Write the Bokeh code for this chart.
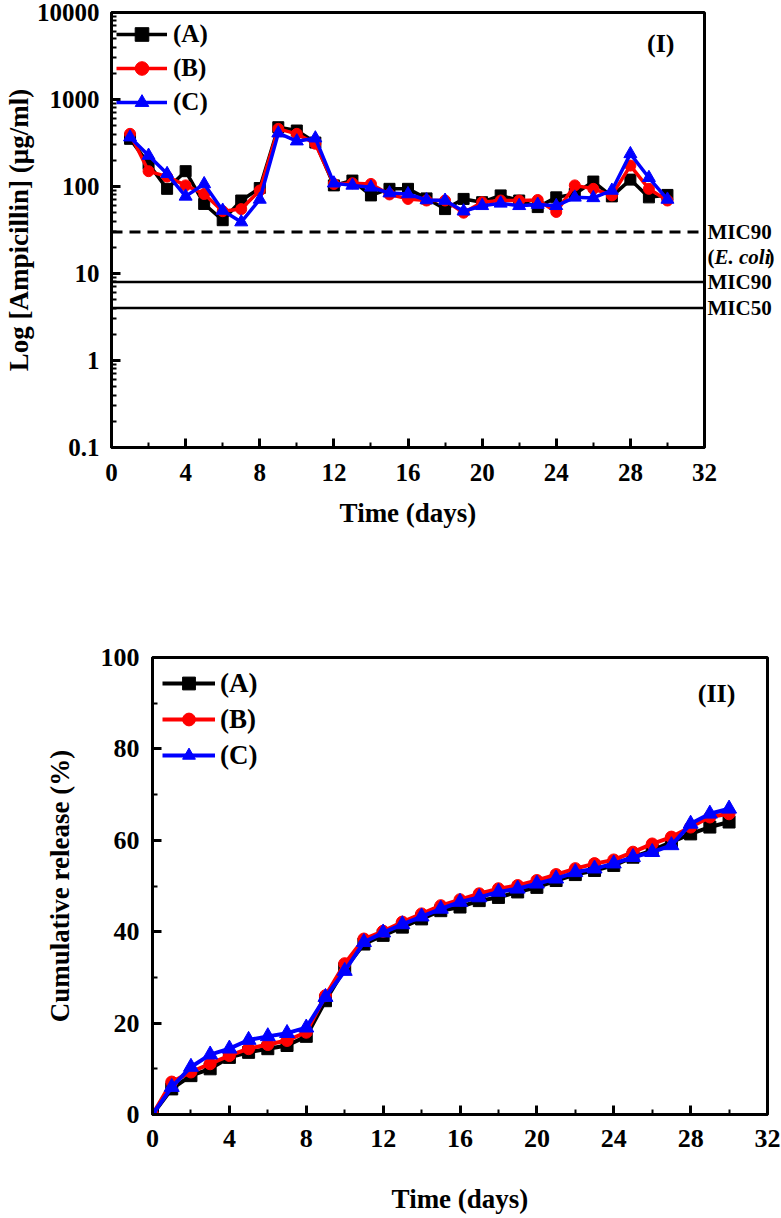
from bokeh.plotting import figure
from bokeh.models import (Range1d, FixedTicker, Span, Label, Legend, LegendItem,
                          CustomJSTickFormatter, LogAxis)
from bokeh.embed import file_html
from bokeh.resources import INLINE

# ---------------- data: panel (I) ----------------
days_top = list(range(1, 31))
conc_A = [353, 182, 94, 150, 63, 41, 69, 96, 480, 440, 320, 103, 117, 79, 94,
          94, 73, 55, 72, 66, 79, 69, 58, 75, 82, 114, 77, 120, 75, 80]
conc_B = [403, 150, 130, 103, 82, 52, 55, 90, 460, 403, 310, 107, 109, 107, 81,
          72, 69, 69, 50, 66, 69, 69, 70, 51, 103, 94, 79, 174, 94, 69]
conc_C = [369, 227, 140, 77, 107, 53, 39, 71, 410, 332, 359, 109, 103, 98, 84,
          82, 70, 69, 52, 60, 64, 60, 62, 60, 75, 74, 90, 237, 126, 71]
mic_values = [30, 8, 4]
mic_labels = ["MIC90", "MIC90", "MIC50"]

# ---------------- data: panel (II) ----------------
days_bottom = list(range(0, 31))
rel_A = [0, 5.6, 8.5, 10.0, 12.5, 13.6, 14.4, 15.1, 17.1, 24.9, 31.9, 37.3, 39.2,
         41.0, 42.8, 44.6, 45.4, 46.8, 47.5, 48.7, 49.7, 51.2, 52.5, 53.4, 54.5,
         56.3, 57.8, 59.6, 61.4, 62.9, 64.0]
rel_B = [0, 7.1, 9.3, 11.1, 12.9, 14.4, 15.3, 16.2, 18.0, 26.0, 33.0, 38.4, 40.1,
         42.1, 43.9, 45.7, 47.0, 48.3, 49.4, 50.1, 51.2, 52.5, 53.8, 54.9, 55.7,
         57.4, 59.2, 60.7, 62.9, 65.1, 65.8]
rel_C = [0, 6.0, 10.4, 13.1, 14.4, 16.3, 17.1, 17.8, 19.0, 25.7, 31.4, 37.7, 39.8,
         41.6, 43.3, 45.0, 46.5, 47.5, 48.7, 49.4, 50.5, 51.6, 53.0, 53.8, 54.9,
         56.3, 57.4, 58.9, 63.6, 65.8, 66.9]

x_major = [0, 4, 8, 12, 16, 20, 24, 28, 32]
x_minor = [2, 6, 10, 14, 18, 22, 26, 30]
series_labels = ["(A)", "(B)", "(C)"]
colors = ["#000000", "#ff0000", "#0000ff"]
markers = ["square", "circle", "triangle"]

FONT = "Liberation Serif"


def style_axes(p, tick_size, label_size):
    for ax in (p.xaxis, p.yaxis):
        ax.axis_line_width = 3
        ax.axis_line_color = "black"
        ax.major_tick_line_width = 3
        ax.minor_tick_line_width = 2
        ax.major_tick_in = 9
        ax.major_tick_out = 0
        ax.minor_tick_in = 5
        ax.minor_tick_out = 0
        ax.major_label_text_font = FONT
        ax.major_label_text_font_style = "bold"
        ax.major_label_text_font_size = tick_size
        ax.major_label_text_color = "black"
        ax.axis_label_text_font = FONT
        ax.axis_label_text_font_style = "bold"
        ax.axis_label_text_font_size = label_size
        ax.axis_label_text_color = "black"
    p.xgrid.visible = False
    p.ygrid.visible = False
    p.outline_line_color = "black"
    p.outline_line_width = 3
    p.outline_line_alpha = 1.0


# ================= Panel (I) =================
TOP_H = 612
p1 = figure(width=781, height=TOP_H, output_backend="svg", toolbar_location=None,
            y_axis_type="log", x_range=Range1d(0, 32), y_range=Range1d(0.1, 10000),
            min_border_left=107, min_border_right=77, min_border_top=12,
            min_border_bottom=TOP_H - 447)
style_axes(p1, "25px", "27px")
p1.xaxis.ticker = FixedTicker(ticks=x_major, minor_ticks=x_minor)
log_major = [0.1, 1, 10, 100, 1000, 10000]
log_minor = [k * 10.0 ** d for d in range(-1, 4) for k in range(2, 10)]
p1.yaxis.ticker = FixedTicker(ticks=log_major, minor_ticks=log_minor)
p1.yaxis.formatter = CustomJSTickFormatter(code="return String(Math.round(tick*10)/10);")
p1.xaxis.axis_label = "Time (days)"
p1.yaxis.axis_label = "Log [Ampicillin] (\u03bcg/ml)"
p1.xaxis.major_label_standoff = 16
p1.xaxis.axis_label_standoff = 14
p1.yaxis.major_label_standoff = 12
p1.yaxis.axis_label_standoff = 0

# MIC reference lines
p1.add_layout(Span(location=mic_values[0], dimension="width", line_color="black",
                   line_width=3, line_dash="11 7"))
for v in mic_values[1:]:
    p1.add_layout(Span(location=v, dimension="width", line_color="black", line_width=2.5))

# MIC labels on a right-hand axis (outside the frame)
rax = LogAxis(ticker=FixedTicker(ticks=mic_values, minor_ticks=[]),
              major_label_overrides={v: t for v, t in zip(mic_values, mic_labels)})
rax.axis_line_color = None
rax.major_tick_line_color = None
rax.minor_tick_line_color = None
rax.major_tick_in = 0
rax.major_tick_out = 0
rax.minor_tick_in = 0
rax.minor_tick_out = 0
rax.major_label_standoff = 3
rax.major_label_text_font = FONT
rax.major_label_text_font_style = "bold"
rax.major_label_text_font_size = "21px"
rax.major_label_text_color = "black"
p1.add_layout(rax, "right")

# "(E. coli)" under the dashed MIC90 label, with the species name in italics.
# Placed in a side panel so it is not clipped to the frame; positioned relative
# to the dashed line's data value.
for txt, xo, style in [("(", 3, "bold"), ("E. coli", 10, "bold italic"), (")", 63, "bold")]:
    p1.add_layout(Label(x=32, y=mic_values[0], x_offset=xo, y_offset=-25, text=txt,
                        text_font=FONT, text_font_style=style, text_font_size="21px",
                        text_align="left", text_baseline="middle", text_color="black"),
                  "below")

items1 = []
for ys, lab, c, m in zip([conc_A, conc_B, conc_C], series_labels, colors, markers):
    r_line = p1.line(days_top, ys, line_color=c, line_width=3.5)
    r_pt = p1.scatter(days_top, ys, marker=m, size=11 if m != "triangle" else 13,
                      fill_color=c, line_color=c)
    items1.append(LegendItem(label=lab, renderers=[r_line, r_pt]))

leg1 = Legend(items=items1, location="top_left", margin=5, padding=3, spacing=0,
              glyph_width=51, glyph_height=34, label_height=34, label_standoff=6,
              label_text_font=FONT, label_text_font_style="bold",
              label_text_font_size="25px", label_text_color="black",
              border_line_color=None, background_fill_alpha=0)
p1.add_layout(leg1)

p1.add_layout(Label(x=29.64, y=4370, text="(I)", text_font=FONT, text_font_style="bold",
                    text_font_size="26px", text_align="center", text_baseline="middle",
                    text_color="black"))

# ================= Panel (II) =================
BOT_H = 1218 - TOP_H
p2 = figure(width=781, height=BOT_H, output_backend="svg", toolbar_location=None,
            x_range=Range1d(0, 32), y_range=Range1d(0, 100),
            min_border_left=152, min_border_right=14, min_border_top=657 - TOP_H,
            min_border_bottom=104)
style_axes(p2, "26px", "27px")
p2.xaxis.ticker = FixedTicker(ticks=x_major, minor_ticks=x_minor)
p2.yaxis.ticker = FixedTicker(ticks=[0, 20, 40, 60, 80, 100], minor_ticks=[10, 30, 50, 70, 90])
p2.xaxis.axis_label = "Time (days)"
p2.yaxis.axis_label = "Cumulative release (%)"
p2.xaxis.major_label_standoff = 15
p2.xaxis.axis_label_standoff = 34
p2.yaxis.major_label_standoff = 13
p2.yaxis.axis_label_standoff = 23

items2 = []
for ys, lab, c, m in zip([rel_A, rel_B, rel_C], series_labels, colors, markers):
    r_line = p2.line(days_bottom, ys, line_color=c, line_width=4)
    r_pt = p2.scatter(days_bottom, ys, marker=m, size=12 if m != "triangle" else 15,
                      fill_color=c, line_color=c)
    items2.append(LegendItem(label=lab, renderers=[r_line, r_pt]))

leg2 = Legend(items=items2, location="top_left", margin=10, padding=4, spacing=4,
              glyph_width=53, glyph_height=32, label_height=32, label_standoff=5,
              label_text_font=FONT, label_text_font_style="bold",
              label_text_font_size="27px", label_text_color="black",
              border_line_color=None, background_fill_alpha=0)
p2.add_layout(leg2)

p2.add_layout(Label(x=29.35, y=92.1, text="(II)", text_font=FONT, text_font_style="bold",
                    text_font_size="26px", text_align="center", text_baseline="middle",
                    text_color="black"))

open("out.html", "w").write(file_html([p1, p2], INLINE))
